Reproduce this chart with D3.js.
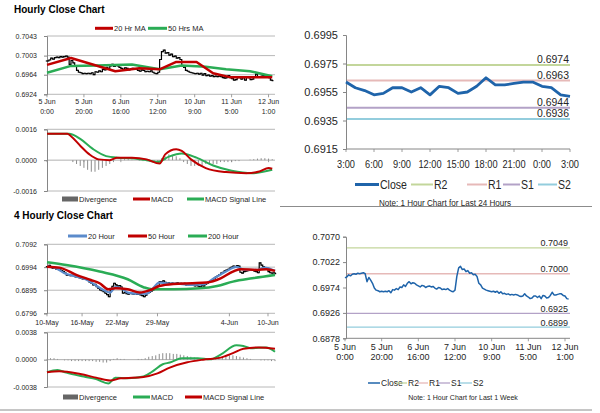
<!DOCTYPE html>
<html>
<head>
<meta charset="utf-8">
<script src="https://cdnjs.cloudflare.com/ajax/libs/d3/7.8.5/d3.min.js"></script>
<style>
body { margin: 0; background: #fff; }
</style>
</head>
<body>
<div id="chart-area"></div>
<script>
// ---- hourly data (5 Jun 0:00 .. 12 Jun 3:00), one value per hour
var hourlyClose = [
  0.6992,0.6994,0.6998,0.6996,0.6999,0.7000,0.6999,0.7001,0.7000,0.7001,
  0.7002,0.7000,0.6985,0.6993,0.6988,0.6982,0.6973,0.6969,0.6968,0.6966,
  0.6967,0.6966,0.6967,0.6966,0.6968,0.6964,0.6970,0.6969,0.6972,0.6970,
  0.6975,0.6974,0.6979,0.6976,0.6982,0.6985,0.6981,0.6983,0.6982,0.6979,
  0.6977,0.6975,0.6978,0.6977,0.6974,0.6976,0.6977,0.6975,0.6976,0.6973,
  0.6971,0.6974,0.6973,0.6970,0.6971,0.6970,0.6972,0.6969,0.6967,0.6966,
  0.6969,0.6995,0.7011,0.7014,0.7008,0.7009,0.7004,0.7006,0.7001,0.7002,
  0.6998,0.6999,0.6995,0.6982,0.6979,0.6973,0.6971,0.6969,0.6968,0.6967,
  0.6966,0.6967,0.6965,0.6967,0.6963,0.6966,0.6962,0.6963,0.6961,0.6962,
  0.6960,0.6961,0.6960,0.6961,0.6960,0.6958,0.6957,0.6958,
  0.6962,0.6958,0.6956,0.6953,0.6954,0.6958,0.6958,0.6955,0.6958,0.6953,
  0.6959,0.6958,0.6954,0.6955,0.6959,0.6965,0.6960,0.6960,0.6961,0.6962,
  0.6962,0.6959,0.6958,0.6953,0.6952
];
var hourLabelAt = [0, 20, 40, 60, 80, 100, 120];
var hourLabelDay = ["5 Jun", "5 Jun", "6 Jun", "7 Jun", "10 Jun", "11 Jun", "12 Jun"];
var hourLabelTime = ["0:00", "20:00", "16:00", "12:00", "9:00", "5:00", "1:00"];
var hourlyTicks = [0.6924, 0.6964, 0.7003, 0.7043];

var ma20HrAt = [0, 13, 37, 50, 61, 70, 81, 90, 99, 122];
var ma20HrVal = [0.6984, 0.6998, 0.6971, 0.6977, 0.6975, 0.6990, 0.6990, 0.6967, 0.6959, 0.6959];
var ma50HrAt = [0, 13, 27, 46, 61, 73, 86, 97, 110, 122];
var ma50HrVal = [0.6968, 0.6982, 0.6983, 0.6985, 0.6975, 0.6983, 0.6980, 0.6975, 0.6971, 0.6961];

var macdHAt = [0, 11, 13, 18, 23, 28, 34, 38, 46, 54, 61, 64, 70, 73, 78, 86, 97, 108, 115, 120, 122];
var macdHVal = [0.00137, 0.00137, 0.00124, 0.00075, 0.0003, 0.00004, 0, 0.00013, 0.00013, 0.00004, -0.00018,
  0.0003, 0.00057, 0.00048, 0.00004, -0.00041, -0.00062, -0.00068, -0.00059, -0.00041, -0.00045];
var signalHAt = [0, 12, 18, 25, 32, 38, 46, 54, 60, 66, 73, 81, 90, 100, 111, 122];
var signalHVal = [0.00137, 0.00137, 0.0011, 0.00057, 0.00021, 0.00013, 0.0001, 0, -0.0001, 0.00018, 0.00035,
  0.00013, -0.00028, -0.00055, -0.00068, -0.0005];
// divergence, every second hour
var divH = [
  0,0,0,0,0,0,0,
  -0.0001,-0.0002,-0.0003,-0.0004,-0.0005,-0.0006,-0.0006,-0.0005,-0.0004,-0.0003,-0.0002,-0.0001,
  0,0.00005,0.00005,0.00005,0.00003,0,-0.00003,-0.00005,-0.00005,-0.0001,-0.0001,-0.0001,
  0.0001,0.0002,0.0003,0.00025,0.0002,0.0001,
  -0.0001,-0.0002,-0.0003,-0.0003,-0.0003,-0.0003,-0.0002,-0.0002,-0.0002,-0.0002,-0.0001,-0.0001,-0.0001,-0.0001,
  -0.00005,-0.00005,0,0,0.00003,0.00005,0.00008,0.0001,0.0001,0.00008,0.00005
];
var macdHTicks = [-0.0016, 0, 0.0016];

// ---- last 24 hours (11 Jun 3:00 .. 12 Jun 3:00)
var close24 = hourlyClose.slice(98);
var labels24 = ["3:00", "6:00", "9:00", "12:00", "15:00", "18:00", "21:00", "0:00", "3:00"];
var ticks24 = [0.6915, 0.6935, 0.6955, 0.6975, 0.6995];
var levels24 = [0.6974, 0.6963, 0.6944, 0.6936];   // R2 R1 S1 S2

// ---- 4 hourly data (10 May .. 10 Jun)
var close4h = [
  0.6996,0.7002,0.6993,0.6989,0.6991,0.6985,0.6986,0.6982,0.6979,0.6975,
  0.6968,0.6960,0.6962,0.6958,0.6959,0.6956,0.6952,0.6954,0.6949,0.6946,
  0.6944,0.6947,0.6941,0.6939,0.6930,0.6925,0.6918,0.6920,0.6910,0.6903,
  0.6896,0.6893,0.6889,0.6882,0.6876,0.6867,0.6896,0.6912,0.6925,0.6918,
  0.6913,0.6915,0.6908,0.6882,0.6886,0.6880,0.6878,0.6883,0.6880,0.6878,
  0.6881,0.6877,0.6879,0.6875,0.6872,0.6867,0.6874,0.6882,0.6886,0.6891,
  0.6896,0.6903,0.6908,0.6913,0.6932,0.6930,0.6935,0.6929,0.6925,0.6927,
  0.6923,0.6926,0.6922,0.6924,0.6927,0.6923,0.6925,0.6921,0.6924,0.6918,
  0.6920,0.6916,0.6919,0.6918,0.6914,0.6916,0.6912,0.6910,0.6915,0.6913,
  0.6920,0.6925,0.6931,0.6936,0.6941,0.6946,0.6952,0.6957,0.6962,0.6968,
  0.6972,0.6978,0.6981,0.6985,0.6990,0.6994,0.6999,0.6996,0.7001,0.6998,
  0.6972,0.6968,0.6975,0.6977,0.6979,0.6983,0.6980,0.6982,0.6977,0.6975,
  0.6970,0.7012,0.7003,0.6996,0.6990,0.6989,0.6975,0.6970,0.6968,0.6970,
  0.6966
];
var label4hAt = [0, 20, 40, 63, 104, 126];
var label4h = ["10-May", "16-May", "22-May", "29-May", "4-Jun", "10-Jun"];
var ticks4h = [0.6796, 0.6895, 0.6994, 0.7092];

var ma20At = [0, 5, 10, 16, 22, 27, 33, 36, 39, 42, 46, 53, 57, 60, 64, 68, 76, 83, 89, 95, 102, 108, 113, 120, 124, 130];
var ma20Val = [0.6996, 0.6990, 0.6968, 0.6955, 0.6942, 0.6920, 0.6893, 0.6885, 0.6908, 0.6905, 0.6885, 0.6880, 0.6880,
  0.6900, 0.6928, 0.6925, 0.6922, 0.6918, 0.6920, 0.6945, 0.6975, 0.6995, 0.6982, 0.6982, 0.6992, 0.6978];
var ma50At = [0, 7, 17, 25, 30, 35, 39, 46, 53, 59, 64, 72, 83, 91, 99, 106, 110, 120, 125, 130];
var ma50Val = [0.6996, 0.6992, 0.6960, 0.6939, 0.6925, 0.6899, 0.6903, 0.6899, 0.6885, 0.6896, 0.6913, 0.6922,
  0.6925, 0.6928, 0.6946, 0.6975, 0.6985, 0.6982, 0.6985, 0.6978];
var ma200At = [0, 11, 30, 46, 55, 60, 72, 87, 97, 106, 117, 130];
var ma200Val = [0.7015, 0.7003, 0.6975, 0.6942, 0.6908, 0.6899, 0.6899, 0.6903, 0.6913, 0.6932, 0.6946, 0.6960];

var macd4At = [0, 6, 11, 21, 28, 35, 39, 46, 55, 60, 66, 70, 77, 86, 93, 99, 108, 112, 116, 125, 130];
var macd4Val = [-0.00175, -0.00143, -0.0018, -0.00235, -0.0027, -0.0033, -0.0025, -0.0026, -0.00235, -0.00166,
  -0.00064, -0.0004, 0.0002, 0.0002, 0.00005, 0.0007, 0.002, 0.0019, 0.0016, 0.0017, 0.0011];
var signal4At = [0, 7, 19, 28, 36, 42, 55, 63, 70, 80, 89, 99, 106, 112, 121, 130];
var signal4Val = [-0.00175, -0.0016, -0.002, -0.0025, -0.0029, -0.0026, -0.0024, -0.0019, -0.0011, -0.00037,
  0, 0.00028, 0.0009, 0.0015, 0.0017, 0.0015];
// divergence, every second bar
var div4 = [
  0.0001,0.0002,0.0002,0.0001,0,-0.0001,-0.0001,-0.0002,-0.0002,-0.0002,
  -0.0002,-0.0002,-0.0002,-0.0002,-0.0003,-0.0003,-0.0004,-0.0004,-0.0002,0.0001,
  0.0002,0.0001,0.0001,0,0,0,0.0001,0.0001,0.0002,0.0004,
  0.0005,0.0006,0.0008,0.0009,0.0009,0.0009,0.0008,0.0008,0.0007,0.0006,
  0.0005,0.0004,0.0003,0.0002,0.0001,0,0,0.0001,0.0002,0.0003,
  0.0004,0.0005,0.0006,0.0006,0.0005,0.0004,0.0003,0.0002,0.0001,0,
  0,-0.0001,-0.0001,-0.0001,-0.0002,-0.0002
];
var macd4Ticks = [-0.0038, 0, 0.0038];

// ---- 1 week chart (same hourly closes)
var ticksWeek = [0.6878, 0.6926, 0.6974, 0.7022, 0.7070];
var levelsWeek = [0.7049, 0.7000, 0.6925, 0.6899];  // R2 R1 S1 S2

var FONT = "'Liberation Sans', Arial, sans-serif";
var RED = "#c00000", GREEN = "#2aac55", BLUE = "#5b8bcb", DARKBLUE = "#1f64aa", GRAY = "#8c8c8c";
var levelColors = ["#c3d69b", "#e6b9b8", "#b3a2c7", "#93cddd"];

var svg = d3.select("#chart-area").append("svg")
    .attr("width", 600)
    .attr("height", 413)
    .attr("font-family", FONT);

// helpers
function title(g, x, y, t) {
    g.append("text").attr("x", x).attr("y", y)
        .attr("font-size", 10).attr("font-weight", "bold").attr("fill", "#000")
        .text(t);
}

// narrow text: drawn at origin, then moved and squeezed sideways
function narrowText(g, x, y, t, size, sx, anchor) {
    return g.append("text")
        .attr("transform", "translate(" + x + "," + y + ") scale(" + sx + ",1)")
        .attr("text-anchor", anchor || "start")
        .attr("font-size", size).attr("fill", "#262626")
        .text(t);
}

function grid(g, y, x0, x1, ticks, color) {
    g.append("g").selectAll("line").data(ticks).enter().append("line")
        .attr("x1", x0).attr("x2", x1)
        .attr("y1", d => y(d)).attr("y2", d => y(d))
        .attr("stroke", color || "#a6a6a6").attr("stroke-width", 0.8);
}

function yAxis(g, y, x0, ticks, size, pad) {
    var a = g.append("g")
        .attr("transform", "translate(" + x0 + ",0)")
        .call(d3.axisLeft(y).tickValues(ticks).tickSize(3).tickPadding(pad)
            .tickFormat(d => d.toFixed(4)));
    a.attr("font-family", FONT).attr("font-size", size);
    a.select(".domain").attr("stroke", "#868686");
    a.selectAll(".tick line").attr("stroke", "#868686");
    a.selectAll("text").attr("fill", "#262626");
}

function xTicks(g, x, y0, at, len) {
    g.append("g").selectAll("line").data(at).enter().append("line")
        .attr("x1", d => x(d)).attr("x2", d => x(d))
        .attr("y1", y0).attr("y2", y0 + len)
        .attr("stroke", "#868686").attr("stroke-width", 0.8);
}

function twoLine(g, x, y0, at, top, bottom, size, gap) {
    at.forEach(function (h, i) {
        var t = g.append("text").attr("y", y0)
            .attr("text-anchor", "middle").attr("font-size", size).attr("fill", "#262626");
        t.append("tspan").attr("x", x(h)).text(top[i]);
        t.append("tspan").attr("x", x(h)).attr("dy", gap).text(bottom[i]);
    });
}

function ohlc(g, x, y, closes) {
    g.append("g").selectAll("path").data(closes).enter().append("path")
        .attr("d", function (d, i) {
            var o = i > 0 ? closes[i - 1] : d, xx = x(i);
            return "M" + (xx - 1.2) + "," + y(o) + "H" + xx + "V" + y(d) + "H" + (xx + 1.2);
        })
        .attr("fill", "none").attr("stroke", "#000").attr("stroke-width", 1.2);
}

function sparseLine(g, x, y, at, vals, color, w, curve) {
    g.append("path")
        .datum(d3.zip(at, vals))
        .attr("fill", "none").attr("stroke", color).attr("stroke-width", w)
        .attr("stroke-linejoin", "round")
        .attr("d", d3.line().curve(curve || d3.curveLinear)
            .x(d => x(d[0])).y(d => y(d[1])));
}

function divBars(g, x, y, vals, step) {
    g.append("g").selectAll("rect").data(vals).enter().append("rect")
        .attr("x", (d, i) => x(i * step) - 0.5)
        .attr("width", 1)
        .attr("y", d => Math.min(y(0), y(d)))
        .attr("height", d => Math.abs(y(d) - y(0)))
        .attr("fill", GRAY);
}

function legend(g, items, y, size, w, sx) {
    items.forEach(function (d) {
        if (d.bar) {
            g.append("rect").attr("x", d.x0).attr("width", d.x1 - d.x0)
                .attr("y", y - 2.5).attr("height", 5).attr("fill", "#666");
        } else {
            g.append("line").attr("x1", d.x0).attr("x2", d.x1)
                .attr("y1", y).attr("y2", y)
                .attr("stroke", d.color).attr("stroke-width", d.w || w);
        }
        narrowText(g, d.x1 + 1, y, d.label, size, sx || 1).attr("dy", "0.35em");
    });
}

// ================= Hourly Close Chart =================
var g1 = svg.append("g");
var xH = d3.scaleLinear().domain([0, 123.5]).range([47, 275]);
var yH = d3.scaleLinear().domain([0.6924, 0.7043]).range([94.3, 36]);

title(g1, 14, 13, "Hourly Close Chart");
grid(g1, yH, 47, 275, hourlyTicks);
yAxis(g1, yH, 47, hourlyTicks, 7, 7);
xTicks(g1, xH, 94.3, hourLabelAt, 3);
twoLine(g1, xH, 104, hourLabelAt, hourLabelDay, hourLabelTime, 7, 9.5);
ohlc(g1, xH, yH, hourlyClose);
sparseLine(g1, xH, yH, ma50HrAt, ma50HrVal, GREEN, 2.5);
sparseLine(g1, xH, yH, ma20HrAt, ma20HrVal, RED, 2.5);
legend(g1, [
    { x0: 95, x1: 113, color: RED, label: "20 Hr MA" },
    { x0: 148, x1: 167, color: GREEN, label: "50 Hrs MA" }
], 28.3, 7.5, 3);

// MACD (hourly)
var yHm = d3.scaleLinear().domain([-0.0016, 0.0016]).range([191, 129.3]);
grid(g1, yHm, 47, 275, [-0.0016, 0.0016]);
grid(g1, yHm, 47, 275, [0], "#9a9a9a");
yAxis(g1, yHm, 47, macdHTicks, 7, 7);
xTicks(g1, xH, yHm(0), hourLabelAt, 2);
divBars(g1, xH, yHm, divH, 2);
sparseLine(g1, xH, yHm, signalHAt, signalHVal, GREEN, 2, d3.curveMonotoneX);
sparseLine(g1, xH, yHm, macdHAt, macdHVal, RED, 2, d3.curveMonotoneX);
legend(g1, [
    { x0: 62, x1: 78, bar: true, label: "Divergence" },
    { x0: 133, x1: 150, color: RED, label: "MACD" },
    { x0: 187, x1: 204, color: GREEN, label: "MACD Signal Line" }
], 199, 7.5, 3);

// ================= Last 24 hours =================
var g2 = svg.append("g");
var x24 = d3.scaleLinear().domain([0, 24]).range([346, 570]);
var y24 = d3.scaleLinear().domain([0.6915, 0.6995]).range([149, 35]);

yAxis(g2, y24, 346, ticks24, 11, 5);
g2.append("line").attr("x1", 346).attr("x2", 570).attr("y1", 149).attr("y2", 149)
    .attr("stroke", "#868686");
var at24 = labels24.map((d, i) => i * 3);
xTicks(g2, x24, 149, at24, 3);
labels24.forEach(function (d, i) {
    narrowText(g2, x24(at24[i]), 168, d, 11, 0.84, "middle");
});

levels24.forEach(function (v, i) {
    g2.append("line").attr("x1", 347).attr("x2", 570)
        .attr("y1", y24(v)).attr("y2", y24(v))
        .attr("stroke", levelColors[i]).attr("stroke-width", 2);
    narrowText(g2, 569, y24(v) - 2, v.toFixed(4), 11, 0.95, "end");
});
g2.append("path").datum(close24)
    .attr("fill", "none").attr("stroke", DARKBLUE).attr("stroke-width", 2.8)
    .attr("stroke-linejoin", "round")
    .attr("d", d3.line().x((d, i) => x24(i)).y(d => y24(d)));

legend(g2, [
    { x0: 355, x1: 379, color: DARKBLUE, w: 3, label: "Close" },
    { x0: 411, x1: 433, color: levelColors[0], label: "R2" },
    { x0: 467, x1: 487, color: levelColors[1], label: "R1" },
    { x0: 503, x1: 520, color: levelColors[2], label: "S1" },
    { x0: 538, x1: 557, color: levelColors[3], label: "S2" }
], 184.5, 12, 2, 0.88);
narrowText(g2, 445, 205.5, "Note: 1 Hour Chart for Last 24 Hours", 9, 0.9, "middle");

// separators
svg.append("line").attr("x1", 280).attr("x2", 592).attr("y1", 206.5).attr("y2", 206.5)
    .attr("stroke", "#8c8c8c").attr("stroke-width", 1);
svg.append("line").attr("x1", 0).attr("x2", 592).attr("y1", 410).attr("y2", 410)
    .attr("stroke", "#8c8c8c").attr("stroke-width", 1);

// ================= 4 Hourly Close Chart =================
var g3 = svg.append("g");
var x4 = d3.scaleLinear().domain([0, 130]).range([47, 275]);
var y4 = d3.scaleLinear().domain([0.6796, 0.7092]).range([313.3, 244.3]);

title(g3, 14, 219, "4 Hourly Close Chart");
grid(g3, y4, 47, 275, ticks4h);
yAxis(g3, y4, 47, ticks4h, 7, 7);
xTicks(g3, x4, 313.3, label4hAt, 3);
g3.append("g").selectAll("text").data(label4h).enter().append("text")
    .attr("x", (d, i) => x4(label4hAt[i])).attr("y", 324.5)
    .attr("text-anchor", "middle").attr("font-size", 7).attr("fill", "#262626")
    .text(d => d);
ohlc(g3, x4, y4, close4h);
sparseLine(g3, x4, y4, ma200At, ma200Val, GREEN, 2.5, d3.curveMonotoneX);
sparseLine(g3, x4, y4, ma20At, ma20Val, BLUE, 2.2, d3.curveMonotoneX);
sparseLine(g3, x4, y4, ma50At, ma50Val, RED, 2.5, d3.curveMonotoneX);
legend(g3, [
    { x0: 68, x1: 87, color: BLUE, label: "20 Hour" },
    { x0: 128, x1: 147, color: RED, label: "50 Hour" },
    { x0: 188, x1: 207, color: GREEN, label: "200 Hour" }
], 236, 7.5, 3);

// MACD (4 hourly)
var y4m = d3.scaleLinear().domain([-0.0038, 0.0038]).range([387, 332.3]);
grid(g3, y4m, 47, 275, [-0.0038, 0.0038]);
grid(g3, y4m, 47, 275, [0], "#9a9a9a");
yAxis(g3, y4m, 47, macd4Ticks, 7, 7);
divBars(g3, x4, y4m, div4, 2);
sparseLine(g3, x4, y4m, macd4At, macd4Val, GREEN, 2, d3.curveMonotoneX);
sparseLine(g3, x4, y4m, signal4At, signal4Val, RED, 2, d3.curveMonotoneX);
legend(g3, [
    { x0: 63, x1: 78, bar: true, label: "Divergence" },
    { x0: 133, x1: 150, color: GREEN, label: "MACD" },
    { x0: 185, x1: 202, color: RED, label: "MACD Signal Line" }
], 397, 7.5, 3);

// ================= Last 1 week =================
var g4 = svg.append("g");
var xW = d3.scaleLinear().domain([0, 120]).range([345, 565]);
var yW = d3.scaleLinear().domain([0.6878, 0.7070]).range([338.3, 236.7]);

yAxis(g4, yW, 346, ticksWeek, 9, 3);
g4.append("line").attr("x1", 346).attr("x2", 570).attr("y1", 338.3).attr("y2", 338.3)
    .attr("stroke", "#868686");
xTicks(g4, xW, 338.3, hourLabelAt, 3);
twoLine(g4, xW, 350, hourLabelAt, hourLabelDay, hourLabelTime, 9, 10);

levelsWeek.forEach(function (v, i) {
    g4.append("line").attr("x1", 347).attr("x2", 570)
        .attr("y1", yW(v)).attr("y2", yW(v))
        .attr("stroke", levelColors[i]).attr("stroke-width", 1.3);
    g4.append("text").attr("x", 568).attr("y", yW(v) - 1.5)
        .attr("text-anchor", "end").attr("font-size", 9).attr("fill", "#262626")
        .text(v.toFixed(4));
});
g4.append("path").datum(hourlyClose)
    .attr("fill", "none").attr("stroke", DARKBLUE).attr("stroke-width", 1.5)
    .attr("stroke-linejoin", "round")
    .attr("d", d3.line().x((d, i) => xW(i)).y(d => yW(d)));

legend(g4, [
    { x0: 368, x1: 380, color: DARKBLUE, w: 1.5, label: "Close" },
    { x0: 396, x1: 407, color: levelColors[0], label: "R2" },
    { x0: 417, x1: 428, color: levelColors[1], label: "R1" },
    { x0: 438, x1: 450, color: levelColors[2], label: "S1" },
    { x0: 460, x1: 472, color: levelColors[3], label: "S2" }
], 383, 8.5, 1.3);
g4.append("text").attr("x", 463).attr("y", 399.5).attr("text-anchor", "middle")
    .attr("font-size", 7).attr("fill", "#262626")
    .text("Note: 1 Hour Chart for Last 1 Week");
</script>
</body>
</html>
